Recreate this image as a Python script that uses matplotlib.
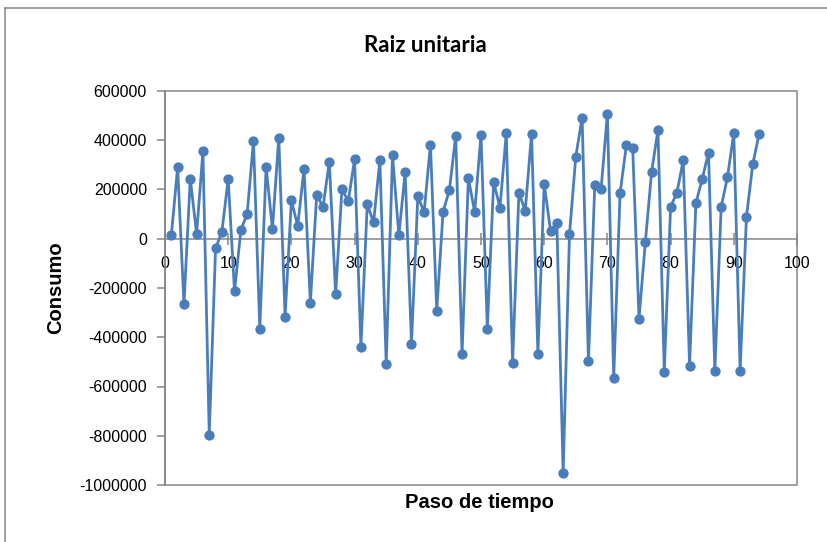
import numpy as np
import matplotlib.pyplot as plt
from matplotlib.patches import Rectangle

plt.rcParams['font.family'] = ['Liberation Sans', 'DejaVu Sans']

# consumption per time step
pasos = np.arange(1, 95)
consumo = [
    14000, 290000, -266000, 244000, 20000, 355000, -795000, -39000, 28000, 243000,
    -214000, 34000, 102000, 397000, -365000, 292000, 39000, 411000, -316000, 156000,
    52000, 285000, -259000, 178000, 129000, 313000, -225000, 202000, 152000, 324000,
    -441000, 140000, 66000, 320000, -508000, 339000, 14000, 270000, -426000, 172000,
    108000, 382000, -292000, 110000, 197000, 419000, -469000, 247000, 108000, 423000,
    -365000, 232000, 126000, 428000, -506000, 187000, 114000, 427000, -469000, 222000,
    33000, 65000, -952000, 18000, 334000, 492000, -498000, 218000, 201000, 508000,
    -567000, 184000, 380000, 370000, -325000, -15000, 273000, 441000, -540000, 130000,
    187000, 319000, -515000, 144000, 243000, 350000, -537000, 129000, 250000, 430000,
    -537000, 89000, 302000, 426000,
]
xticks = np.arange(0, 101, 10)
yticks = np.arange(-1000000, 600001, 200000)

grey = '#868686'
blue = '#4A7EBB'

fig = plt.figure(figsize=(8.28, 5.42), dpi=100)
ax = fig.add_axes([165 / 828, 1 - 485 / 542, 632 / 828, 394 / 542])

ax.plot(pasos, consumo, color=blue, lw=2.0, marker='o', ms=6.4,
        markerfacecolor=blue, markeredgecolor=blue, zorder=3)

ax.set_xlim(0, 100)
ax.set_ylim(-1000000, 600000)
ax.set_xticks(xticks)
ax.set_yticks(yticks)
ax.set_xticklabels([str(v) for v in xticks])
ax.set_yticklabels([str(v) for v in yticks])

# x axis crosses at zero, plot box drawn separately
ax.spines['bottom'].set_position(('data', 0))
for s in ['top', 'right']:
    ax.spines[s].set_visible(False)
for s in ['bottom', 'left']:
    ax.spines[s].set_color(grey)
    ax.spines[s].set_linewidth(1.1)
ax.add_patch(Rectangle((0, 0), 1, 1, transform=ax.transAxes, fill=False,
                       edgecolor=grey, lw=1.1, clip_on=False, zorder=1))

ax.tick_params(axis='x', direction='inout', length=8, width=1.1, color=grey,
               labelsize=11.5, pad=8.5)
ax.tick_params(axis='y', direction='out', length=6, width=1.1, color=grey,
               labelsize=11.5, pad=7)

fig.text(425 / 828, 1 - 45 / 542, 'Raiz unitaria', ha='center', va='center',
         fontsize=16, fontweight='bold', family=['Lato', 'DejaVu Sans'])
fig.text(479 / 828, 1 - 503 / 542, 'Paso de tiempo', ha='center', va='center',
         fontsize=14.5, fontweight='bold')
fig.text(56 / 828, 1 - 288 / 542, 'Consumo', ha='center', va='center',
         rotation=90, fontsize=14.5, fontweight='bold')

# chart area frame
fig.add_artist(plt.Line2D([5 / 828, 5 / 828], [0, 1 - 8 / 542], color=grey, lw=1.1))
fig.add_artist(plt.Line2D([5 / 828, 1], [1 - 8 / 542, 1 - 8 / 542], color=grey, lw=1.1))

fig.savefig('out.png', dpi=100)
